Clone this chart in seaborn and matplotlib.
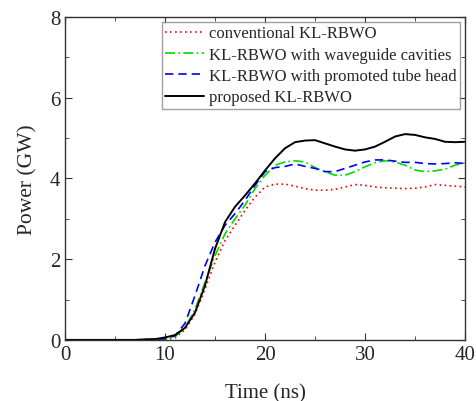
import numpy as np
import pandas as pd
import matplotlib
matplotlib.use("Agg")
import matplotlib.pyplot as plt
import seaborn as sns
from matplotlib.ticker import MultipleLocator

sns.set_style("ticks")
plt.rcParams['font.family'] = ['Liberation Serif', 'DejaVu Serif']
plt.rcParams['mathtext.fontset'] = 'stix'

time_ns = list(range(0, 41))
zeros_head = [0, 0, 0, 0, 0, 0, 0, 0, 0.01]

conventional = zeros_head + [0.0, 0.0, 0.05, 0.25, 0.64, 1.26, 1.93, 2.46, 2.84, 3.21, 3.54,
                3.79, 3.86, 3.86, 3.81, 3.75, 3.71, 3.71, 3.73, 3.79, 3.85,
                3.83, 3.79, 3.77, 3.76, 3.75, 3.76, 3.79, 3.85, 3.83, 3.81, 3.79]
waveguide = zeros_head + [0.01, 0.02, 0.08, 0.30, 0.76, 1.43, 2.09, 2.63, 3.00, 3.34, 3.75,
             4.08, 4.33, 4.41, 4.44, 4.41, 4.27, 4.17, 4.08, 4.08, 4.17,
             4.29, 4.39, 4.44, 4.41, 4.33, 4.21, 4.17, 4.19, 4.23, 4.33, 4.39]
tube_head = zeros_head + [0.01, 0.03, 0.10, 0.41, 1.10, 1.84, 2.42, 2.84, 3.13, 3.46, 3.83,
             4.17, 4.27, 4.30, 4.36, 4.30, 4.25, 4.17, 4.17, 4.25, 4.33,
             4.41, 4.46, 4.46, 4.43, 4.40, 4.40, 4.37, 4.36, 4.37, 4.39, 4.37]
proposed = zeros_head + [0.02, 0.06, 0.12, 0.30, 0.68, 1.35, 2.26, 2.92, 3.30, 3.58, 3.88,
            4.20, 4.50, 4.75, 4.90, 4.94, 4.95, 4.87, 4.79, 4.72, 4.69,
            4.72, 4.79, 4.91, 5.04, 5.10, 5.08, 5.02, 4.98, 4.91, 4.90, 4.91]

labels = ["conventional KL-RBWO", "KL-RBWO with waveguide cavities",
          "KL-RBWO with promoted tube head", "proposed KL-RBWO"]
series = [conventional, waveguide, tube_head, proposed]
colors = ["#ff0000", "#00dd00", "#0000ff", "#000000"]
styles = [(0, (1, 2)), (0, (6, 2, 1, 2)), (0, (5, 3)), "-"]
widths = [1.2, 1.2, 1.2, 1.4]

fig = plt.figure(figsize=(4.76, 4.02), dpi=100)
ax = fig.add_axes([0.1366, 0.152, 0.8404, 0.803])

for lab, vals, c, ls, lw in zip(labels, series, colors, styles, widths):
    df = pd.DataFrame({"Time": time_ns, "Power": vals})
    sns.lineplot(data=df, x="Time", y="Power", ax=ax, color=c, linestyle=ls,
                 linewidth=lw, label=lab)

ax.set_xlim(0, 40)
ax.set_ylim(0, 8)
ax.xaxis.set_major_locator(MultipleLocator(10))
ax.xaxis.set_minor_locator(MultipleLocator(5))
ax.yaxis.set_major_locator(MultipleLocator(2))
ax.yaxis.set_minor_locator(MultipleLocator(1))
ax.tick_params(which='both', direction='in', top=True, right=True, labelsize=15,
               color='#333333')
ax.tick_params(which='major', length=5)
ax.tick_params(which='minor', length=3)
for s in ax.spines.values():
    s.set_color('#333333')
    s.set_linewidth(1.0)

ax.set_xlabel("Time (ns)", fontsize=15, labelpad=14)
ax.set_ylabel("Power (GW)", fontsize=15.5, labelpad=9)

leg = ax.legend(loc='upper right', fontsize=12.0, frameon=True, fancybox=False,
                handlelength=2.35, handletextpad=0.3, borderpad=0.2,
                labelspacing=0.32, borderaxespad=0.3, bbox_to_anchor=(1.0, 1.0))
leg.get_frame().set_edgecolor('#888888')
leg.get_frame().set_linewidth(1.0)

fig.savefig("out.png", dpi=100)
